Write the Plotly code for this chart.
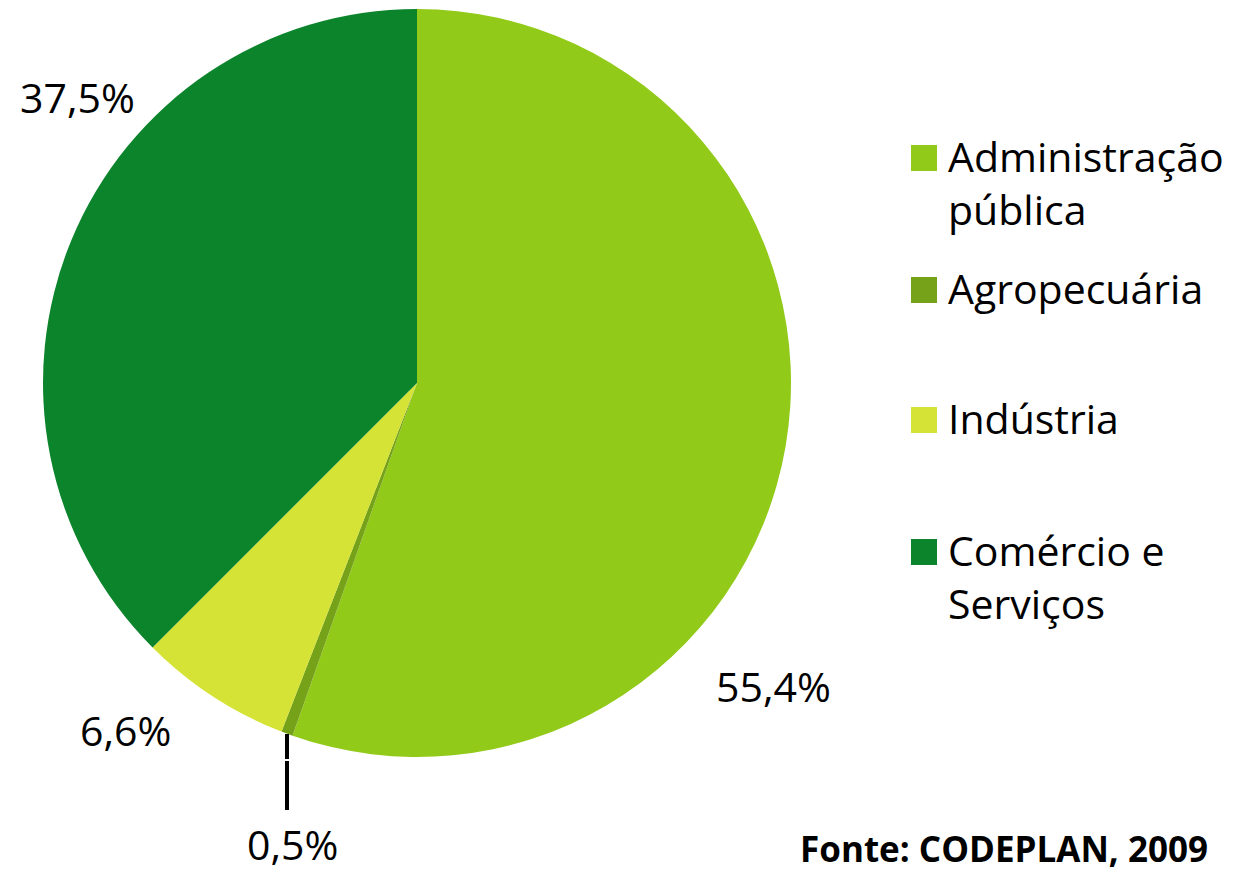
import plotly.graph_objects as go

W, H = 1241, 873

categories = ["Administração pública", "Agropecuária", "Indústria", "Comércio e Serviços"]
legend_labels = ["Administração<br>pública", "Agropecuária", "Indústria", "Comércio e<br>Serviços"]
values = [55.4, 0.5, 6.6, 37.5]
value_labels = ["55,4%", "0,5%", "6,6%", "37,5%"]
colors = ["#92CA1A", "#76A21A", "#D5E336", "#0C842B"]

FONT = "Open Sans"

def px_x(x):
    return x / W

def px_y(y):
    return 1 - y / H

cx, cy, r = 417, 383, 374

fig = go.Figure(go.Pie(
    labels=categories,
    values=values,
    sort=False,
    direction="clockwise",
    rotation=0,
    textinfo="none",
    hoverinfo="label+percent",
    marker=dict(colors=colors, line=dict(width=0)),
    showlegend=False,
    domain=dict(x=[px_x(cx - r), px_x(cx + r)], y=[px_y(cy + r), px_y(cy - r)]),
))

annotations = []
# value labels
label_pos = [(773, 686), (292, 844), (125, 730), (77, 97)]
for (x, y), t in zip(label_pos, value_labels):
    annotations.append(dict(x=px_x(x), y=px_y(y), xref="paper", yref="paper", text=t,
                            showarrow=False, xanchor="center", yanchor="middle",
                            font=dict(family=FONT, size=41, color="#000000")))

# custom legend
shapes = []
legend_square_tops = [145, 277, 407, 539]
for top, lab, col in zip(legend_square_tops, legend_labels, colors):
    shapes.append(dict(type="rect", xref="paper", yref="paper",
                       x0=px_x(911), x1=px_x(937), y0=px_y(top + 26), y1=px_y(top),
                       fillcolor=col, line=dict(width=0)))
    annotations.append(dict(x=px_x(946), y=px_y(top - 19), xref="paper", yref="paper", text=lab,
                            showarrow=False, xanchor="left", yanchor="top", align="left",
                            font=dict(family=FONT, size=41, color="#000000")))

# leader line for 0.5%
shapes.append(dict(type="line", xref="paper", yref="paper",
                   x0=px_x(287), x1=px_x(287), y0=px_y(734), y1=px_y(759),
                   line=dict(color="#000000", width=4)))
shapes.append(dict(type="line", xref="paper", yref="paper",
                   x0=px_x(287), x1=px_x(287), y0=px_y(761), y1=px_y(810),
                   line=dict(color="#000000", width=4)))

annotations.append(dict(x=px_x(1210), y=px_y(848), xref="paper", yref="paper",
                        text="<b>Fonte: CODEPLAN, 2009</b>", showarrow=False,
                        xanchor="right", yanchor="middle",
                        font=dict(family=FONT, size=35, color="#000000")))

fig.update_layout(
    width=W, height=H,
    margin=dict(l=0, r=0, t=0, b=0),
    paper_bgcolor="#FFFFFF",
    plot_bgcolor="#FFFFFF",
    annotations=annotations,
    shapes=shapes,
)

fig.write_html("out.html", config={"displayModeBar": False},
               post_script="document.body.style.margin='0';document.body.style.overflow='hidden';")
